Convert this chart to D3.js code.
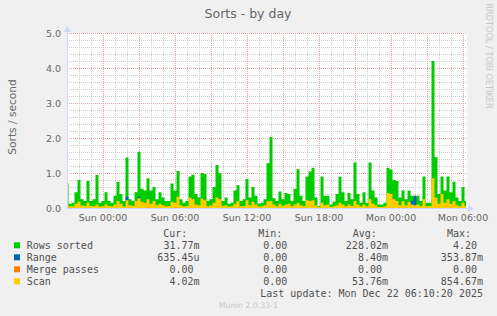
<!DOCTYPE html>
<html>
<head>
<meta charset="utf-8">
<script src="https://cdn.jsdelivr.net/npm/d3@7"></script>
<style>
  body { margin: 0; background: #f0f0f0; }
  svg { display: block; }
  text { font-family: "DejaVu Sans", sans-serif; fill: #666; }
  .mono { font-family: "DejaVu Sans Mono", monospace; white-space: pre; fill: #505050; font-size: 10px; }
</style>
</head>
<body>
<script>
// samples every 15 minutes from Sat 21:00
const startTime = new Date(2025, 11, 20, 21, 0);
const endTime = new Date(2025, 11, 22, 6, 20);
const stepMinutes = 15;

const rowsSorted = [
  0.70, 0.12, 0.15, 0.45, 0.80, 0.25, 0.20, 0.77, 0.20, 0.25,
  0.94, 0.15, 0.20, 0.45, 0.20, 0.15, 0.35, 0.74, 0.40, 0.20,
  1.44, 0.25, 0.20, 0.45, 1.61, 0.55, 0.50, 0.85, 0.50, 0.60,
  0.25, 0.45, 0.30, 0.20, 0.20, 0.70, 0.50, 1.06, 0.25, 0.15,
  0.20, 0.90, 0.95, 0.40, 0.30, 1.00, 0.97, 0.20, 0.25, 0.60,
  1.23, 0.99, 0.20, 0.30, 0.12, 0.15, 0.50, 0.65, 0.20, 0.25,
  0.83, 0.30, 0.60, 0.35, 0.12, 0.15, 0.25, 1.28, 2.03, 0.28,
  0.20, 0.47, 0.25, 0.43, 0.40, 0.20, 0.55, 1.11, 0.35, 0.20,
  0.90, 1.04, 1.15, 0.30, 0.05, 0.90, 0.35, 0.35, 0.10, 0.18,
  0.40, 0.89, 0.45, 0.20, 0.43, 0.25, 1.30, 0.40, 0.15, 0.45,
  0.15, 1.30, 0.50, 0.30, 0.10, 0.10, 0.15, 1.15, 1.10, 0.80,
  0.77, 0.30, 0.50, 0.25, 0.50, 0.35, 0.30, 0.35, 0.20, 0.90,
  0.15, 0.15, 4.20, 1.45, 0.40, 0.90, 0.50, 0.90, 0.45, 0.75,
  0.30, 0.20, 0.60, 0.20,
];

const range = [
  0, 0, 0, 0, 0, 0, 0, 0, 0, 0,
  0, 0, 0, 0, 0, 0, 0, 0, 0, 0,
  0.32, 0, 0, 0, 0.32, 0, 0, 0, 0, 0,
  0, 0, 0, 0, 0, 0, 0, 0.02, 0, 0,
  0, 0, 0, 0, 0, 0, 0, 0, 0, 0,
  0, 0, 0, 0, 0, 0, 0, 0, 0, 0,
  0, 0, 0, 0, 0, 0, 0, 0, 0, 0,
  0, 0, 0, 0, 0, 0, 0, 0, 0, 0,
  0, 0, 0, 0, 0, 0, 0, 0, 0, 0,
  0, 0, 0, 0, 0, 0, 0, 0, 0, 0,
  0, 0, 0, 0, 0, 0, 0, 0.04, 0, 0,
  0, 0, 0, 0, 0, 0.2, 0.35, 0, 0, 0,
  0, 0, 0.03, 0, 0, 0, 0, 0, 0, 0.01,
  0, 0, 0, 0.01,
];

const mergePasses = rowsSorted.map(() => 0);

const scan = [
  0.10, 0.05, 0.05, 0.12, 0.18, 0.08, 0.06, 0.15, 0.06, 0.05,
  0.10, 0.04, 0.05, 0.10, 0.06, 0.05, 0.10, 0.20, 0.12, 0.05,
  0.22, 0.08, 0.06, 0.20, 0.28, 0.18, 0.15, 0.25, 0.12, 0.20,
  0.08, 0.12, 0.08, 0.05, 0.06, 0.18, 0.15, 0.32, 0.08, 0.04,
  0.06, 0.30, 0.25, 0.10, 0.08, 0.27, 0.22, 0.05, 0.08, 0.15,
  0.30, 0.25, 0.06, 0.08, 0.04, 0.05, 0.12, 0.20, 0.05, 0.06,
  0.22, 0.08, 0.18, 0.10, 0.04, 0.05, 0.08, 0.19, 0.20, 0.10,
  0.05, 0.12, 0.06, 0.10, 0.12, 0.05, 0.10, 0.15, 0.08, 0.05,
  0.22, 0.20, 0.22, 0.08, 0.02, 0.15, 0.08, 0.10, 0.03, 0.05,
  0.08, 0.15, 0.10, 0.05, 0.10, 0.06, 0.20, 0.10, 0.04, 0.10,
  0.05, 0.25, 0.12, 0.08, 0.03, 0.03, 0.05, 0.43, 0.40, 0.25,
  0.20, 0.08, 0.20, 0.08, 0.18, 0.10, 0.08, 0.10, 0.05, 0.25,
  0.05, 0.06, 0.85, 0.30, 0.12, 0.40, 0.15, 0.25, 0.12, 0.20,
  0.08, 0.05, 0.15, 0.04,
];

const seriesNames = ["Rows sorted", "Range", "Merge passes", "Scan"];
const curValues = ["31.77m", "635.45u", "0.00 ", "4.02m"];
const minValues = ["0.00 ", "0.00 ", "0.00 ", "0.00 "];
const avgValues = ["228.02m", "8.40m", "0.00 ", "53.76m"];
const maxValues = ["4.20 ", "353.87m", "0.00 ", "854.67m"];
const colors = ["#00CC00", "#0066B3", "#FF8000", "#FFCC00"];

const width = 497;
const height = 316;
const plotLeft = 67;
const plotRight = 467;
const plotTop = 33;
const plotBottom = 208;

const svg = d3
  .select("body")
  .append("svg")
  .attr("width", width)
  .attr("height", height);

svg.append("rect").attr("width", width).attr("height", height).attr("fill", "#f0f0f0");

const xScale = d3.scaleTime().domain([startTime, endTime]).range([plotLeft, plotRight]);
const yScale = d3.scaleLinear().domain([0, 5]).range([plotBottom, plotTop]);
const times = rowsSorted.map((d, i) => d3.timeMinute.offset(startTime, i * stepMinutes));

// canvas
svg
  .append("rect")
  .attr("x", plotLeft)
  .attr("y", plotTop)
  .attr("width", plotRight - plotLeft)
  .attr("height", plotBottom - plotTop)
  .attr("fill", "#ffffff");

// grid
const grid = svg.append("g").attr("shape-rendering", "crispEdges");
const hours = d3.timeHour.every(1).range(startTime, endTime);

grid
  .selectAll(".vminor")
  .data(hours.filter((h) => h.getHours() % 3 !== 0))
  .enter()
  .append("line")
  .attr("x1", (d) => Math.round(xScale(d)) + 0.5)
  .attr("x2", (d) => Math.round(xScale(d)) + 0.5)
  .attr("y1", plotTop)
  .attr("y2", plotBottom)
  .attr("stroke", "#cccccc")
  .attr("stroke-dasharray", "1,1");

grid
  .selectAll(".hminor")
  .data(yScale.ticks(25).filter((v) => Math.abs(v - Math.round(v)) > 0.01))
  .enter()
  .append("line")
  .attr("x1", plotLeft)
  .attr("x2", plotRight)
  .attr("y1", (d) => Math.round(yScale(d)) + 0.5)
  .attr("y2", (d) => Math.round(yScale(d)) + 0.5)
  .attr("stroke", "#cccccc")
  .attr("stroke-dasharray", "1,1");

grid
  .selectAll(".vmajor")
  .data(hours.filter((h) => h.getHours() % 3 === 0))
  .enter()
  .append("line")
  .attr("x1", (d) => Math.round(xScale(d)) + 0.5)
  .attr("x2", (d) => Math.round(xScale(d)) + 0.5)
  .attr("y1", plotTop)
  .attr("y2", plotBottom)
  .attr("stroke", "#e8a0a0")
  .attr("stroke-dasharray", "1,1");

grid
  .selectAll(".hmajor")
  .data(yScale.ticks(5))
  .enter()
  .append("line")
  .attr("x1", plotLeft)
  .attr("x2", plotRight)
  .attr("y1", (d) => Math.round(yScale(d)) + 0.5)
  .attr("y2", (d) => Math.round(yScale(d)) + 0.5)
  .attr("stroke", "#e8a0a0")
  .attr("stroke-dasharray", "1,1");

// areas, drawn in order, not stacked
const area = d3
  .area()
  .x((d, i) => xScale(times[i]))
  .y0(yScale(0))
  .y1((d) => yScale(d))
  .curve(d3.curveStep);

[rowsSorted, range, mergePasses, scan].forEach((series, i) => {
  svg.append("path").attr("d", area(series)).attr("fill", colors[i]);
});

// axes
const axisColor = "#CFD6F8";
svg
  .append("line")
  .attr("x1", plotLeft + 0.5)
  .attr("x2", plotLeft + 0.5)
  .attr("y1", plotBottom + 1)
  .attr("y2", plotTop - 4)
  .attr("stroke", axisColor);
svg
  .append("line")
  .attr("x1", plotLeft)
  .attr("x2", plotRight + 1)
  .attr("y1", plotBottom + 0.5)
  .attr("y2", plotBottom + 0.5)
  .attr("stroke", axisColor);
svg
  .append("path")
  .attr("d", `M${plotLeft - 3},${plotTop - 1}L${plotLeft + 4},${plotTop - 1}L${plotLeft + 0.5},${plotTop - 7}Z`)
  .attr("fill", axisColor);
svg
  .append("path")
  .attr("d", `M${plotRight + 1},${plotBottom - 3}L${plotRight + 1},${plotBottom + 4}L${plotRight + 7},${plotBottom + 0.5}Z`)
  .attr("fill", axisColor);

// tick labels
svg
  .selectAll(".ylabel")
  .data(yScale.ticks(5))
  .enter()
  .append("text")
  .attr("x", plotLeft - 6)
  .attr("y", (d) => yScale(d) + 3.6)
  .attr("text-anchor", "end")
  .attr("font-size", 9.5)
  .text(d3.format(".1f"));

svg
  .selectAll(".xlabel")
  .data(d3.timeHour.every(6).range(startTime, endTime))
  .enter()
  .append("text")
  .attr("x", (d) => xScale(d))
  .attr("y", 220.5)
  .attr("text-anchor", "middle")
  .attr("font-size", 9.5)
  .text(d3.timeFormat("%a %H:%M"));

// titles
svg
  .append("text")
  .attr("x", 248)
  .attr("y", 18.3)
  .attr("text-anchor", "middle")
  .attr("font-size", 12.5)
  .text("Sorts - by day");

svg
  .append("text")
  .attr("transform", "translate(15.5, 117) rotate(-90)")
  .attr("text-anchor", "middle")
  .attr("font-size", 10.6)
  .text("Sorts / second");

svg
  .append("text")
  .attr("transform", "translate(485.5, 56) rotate(90)")
  .attr("text-anchor", "middle")
  .attr("font-size", 8.2)
  .style("fill", "#c8c8c8")
  .text("RRDTOOL / TOBI OETIKER");

// legend
const headers = [
  ["Cur:", 163.3],
  ["Min:", 258.3],
  ["Avg:", 352.7],
  ["Max:", 447],
];
svg
  .selectAll(".head")
  .data(headers)
  .enter()
  .append("text")
  .attr("class", "mono")
  .attr("x", (d) => d[1])
  .attr("y", 237.3)
  .text((d) => d[0]);

const columns = [
  [curValues, 199.5],
  [minValues, 293.3],
  [avgValues, 388],
  [maxValues, 483],
];

seriesNames.forEach((name, i) => {
  const yPos = 249.3 + i * 12;
  svg
    .append("rect")
    .attr("x", 14)
    .attr("y", yPos - 7)
    .attr("width", 6)
    .attr("height", 6)
    .attr("fill", colors[i]);
  svg.append("text").attr("class", "mono").attr("x", 26.7).attr("y", yPos).text(name);
  columns.forEach(([values, xEnd]) => {
    svg
      .append("text")
      .attr("class", "mono")
      .attr("x", xEnd)
      .attr("y", yPos)
      .attr("text-anchor", "end")
      .text(values[i]);
  });
});

svg
  .append("text")
  .attr("class", "mono")
  .attr("x", 483)
  .attr("y", 296.7)
  .attr("text-anchor", "end")
  .text("Last update: Mon Dec 22 06:10:20 2025");

svg
  .append("text")
  .attr("x", 248.5)
  .attr("y", 308)
  .attr("text-anchor", "middle")
  .attr("font-size", 7.8)
  .style("fill", "#c8c8c8")
  .text("Munin 2.0.33-1");
</script>
</body>
</html>
